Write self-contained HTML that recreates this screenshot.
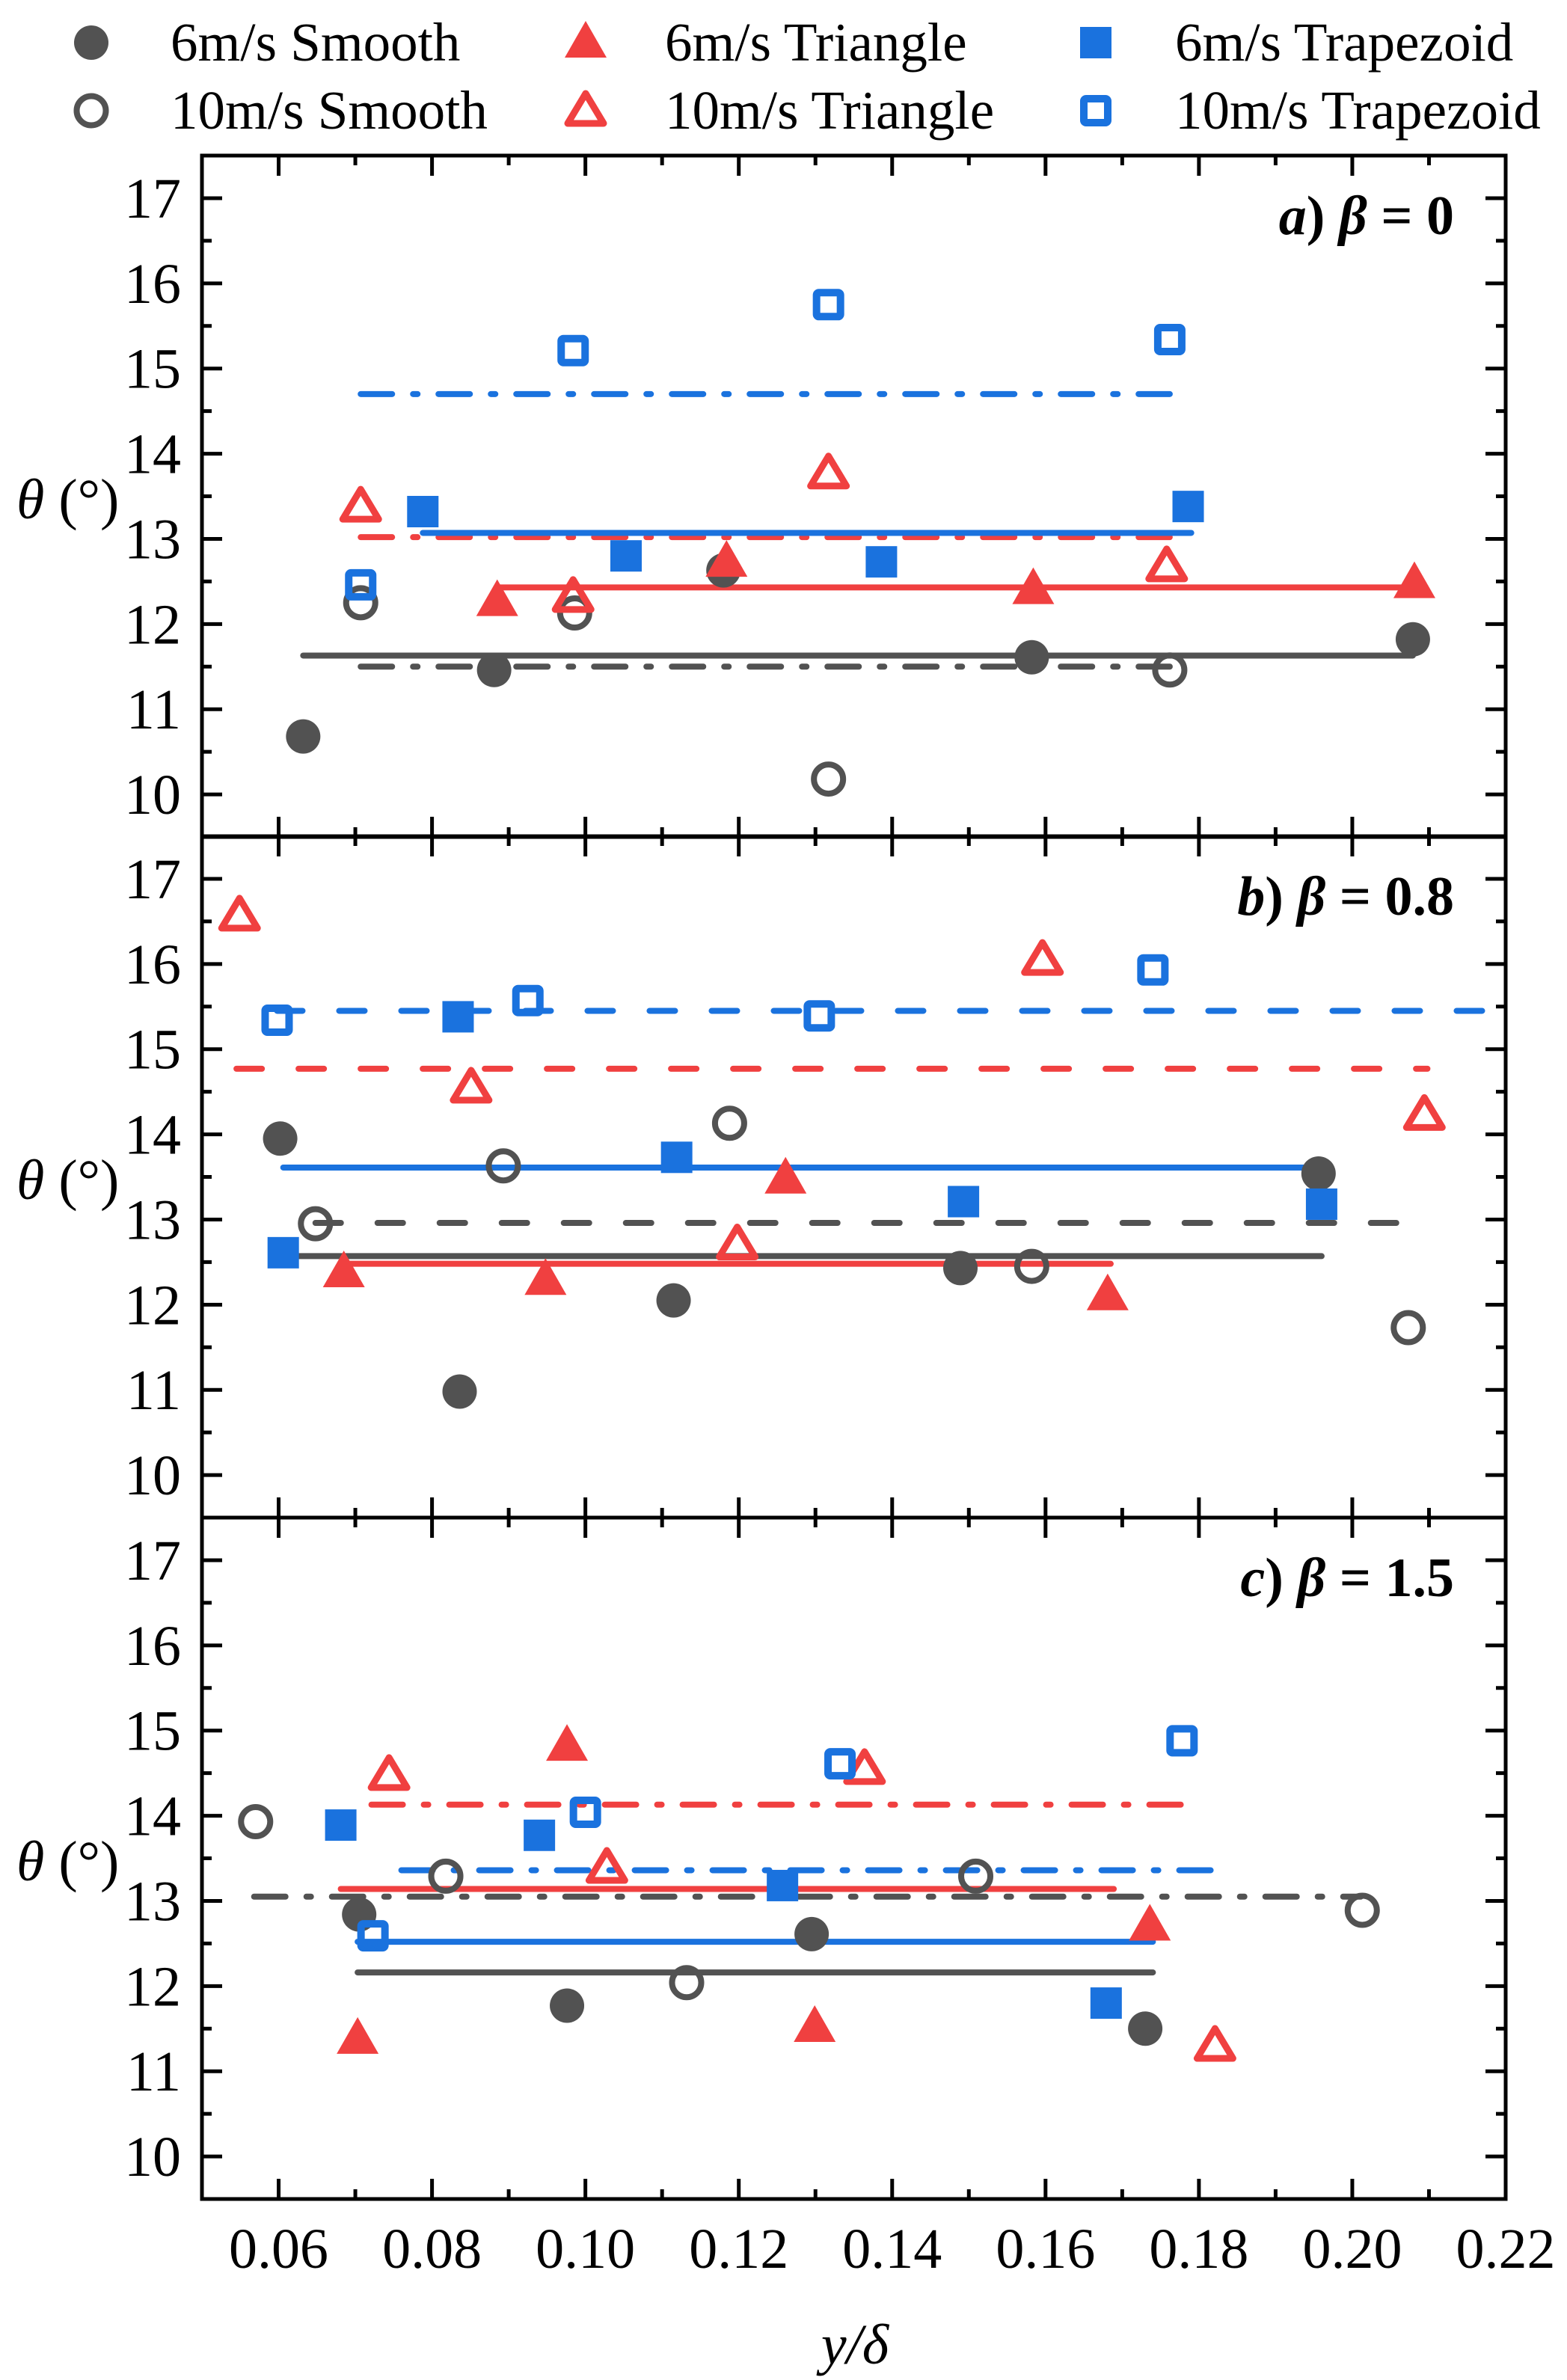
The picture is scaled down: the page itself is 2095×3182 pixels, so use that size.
<!DOCTYPE html>
<html><head><meta charset="utf-8"><style>
html,body{margin:0;padding:0;background:#fff;}
svg{display:block;font-family:"Liberation Serif","DejaVu Serif",serif;}
</style></head><body>
<svg id="chart" width="2095" height="3182" viewBox="0 0 2095 3182" xmlns="http://www.w3.org/2000/svg"></svg>
<script>
// ---- data ----
const seriesNames = ["6m/s Smooth","10m/s Smooth","6m/s Triangle","10m/s Triangle","6m/s Trapezoid","10m/s Trapezoid"];
const panelLabels = ["a)","b)","c)"];
const betaValues = ["0","0.8","1.5"];
const xTicks = [0.06,0.08,0.10,0.12,0.14,0.16,0.18,0.20,0.22];
const xTickLabels = ["0.06","0.08","0.10","0.12","0.14","0.16","0.18","0.20","0.22"];
const yTicks = [10,11,12,13,14,15,16,17];
// panel a
const aSmooth6X=[.0632,.0881,.118,.1582,.2079], aSmooth6Y=[10.68,11.46,12.63,11.61,11.82];
const aSmooth10X=[.0707,.0986,.1317,.1762], aSmooth10Y=[12.25,12.13,10.18,11.46];
const aTri6X=[.0885,.1184,.1584,.2081], aTri6Y=[12.27,12.73,12.41,12.48];
const aTri10X=[.0707,.0984,.1317,.1758], aTri10Y=[13.38,12.32,13.77,12.68];
const aTrap6X=[.0788,.1053,.1386,.1786], aTrap6Y=[13.32,12.80,12.73,13.38];
const aTrap10X=[.0707,.0984,.1317,.1762], aTrap10Y=[12.46,15.21,15.75,15.34];
const aLineLevel=[11.63,11.50,12.43,13.02,13.07,14.70];
const aLineStart=[.0632,.0707,.0885,.0707,.0788,.0707];
const aLineEnd=[.2079,.1762,.2081,.1762,.179,.1762];
// panel b
const bSmooth6X=[.0602,.0836,.1115,.1489,.1956], bSmooth6Y=[13.95,10.98,12.05,12.43,13.54];
const bSmooth10X=[.0648,.0893,.1188,.1582,.2073], bSmooth10Y=[12.95,13.63,14.13,12.45,11.73];
const bTri6X=[.0685,.0948,.1261,.1681], bTri6Y=[12.38,12.29,13.48,12.11];
const bTri10X=[.0549,.0851,.1198,.1596,.2094], bTri10Y=[16.57,14.55,12.71,16.05,14.23];
const bTrap6X=[.0606,.0834,.1119,.1493,.196], bTrap6Y=[12.61,15.38,13.73,13.21,13.18];
const bTrap10X=[.0598,.0925,.1305,.174], bTrap10Y=[15.34,15.57,15.39,15.93];
const bLineLevel=[12.57,12.96,12.48,14.77,13.61,15.45];
const bLineStart=[.0602,.0648,.0685,.0545,.0606,.0598];
const bLineEnd=[.196,.2079,.1685,.2098,.196,.2197];
// panel c
const cSmooth6X=[.0705,.0976,.1295,.173], cSmooth6Y=[12.84,11.77,12.61,11.5];
const cSmooth10X=[.057,.0818,.1132,.1509,.2013], cSmooth10Y=[13.93,13.29,12.04,13.29,12.89];
const cTri6X=[.0703,.0976,.1299,.1736], cTri6Y=[11.38,14.82,11.52,12.71];
const cTri10X=[.0744,.1028,.1364,.1821], cTri10Y=[14.48,13.39,14.55,11.30];
const cTrap6X=[.0681,.094,.1257,.1679], cTrap6Y=[13.89,13.77,13.18,11.80];
const cTrap10X=[.0723,.1,.1332,.1778], cTrap10Y=[12.59,14.04,14.61,14.88];
const cLineLevel=[12.16,13.05,13.14,14.13,12.52,13.36];
const cLineStart=[.0703,.0568,.0681,.0721,.0703,.076];
const cLineEnd=[.174,.2011,.1689,.1786,.174,.1829];

// ---- styling ----
const NS="http://www.w3.org/2000/svg";
const svg=document.getElementById('chart');
const GRAY="#525252", RED="#f04040", BLUE="#1a72de";
const colors=[GRAY,GRAY,RED,RED,BLUE,BLUE];
const kinds=["circle","ocircle","tri","otri","sq","osq"];
const L=270, R=2013, panelTops=[208,1118,2029], PH=911;
const X0=0.05, X1=0.22, Y0=9.5, Y1=17.5;
function sx(v){return L+(v-X0)/(X1-X0)*(R-L);}
function sy(v,p){return panelTops[p]+PH-(v-Y0)/(Y1-Y0)*PH;}
function el(tag,attrs,parent){const e=document.createElementNS(NS,tag);for(const k in attrs)e.setAttribute(k,attrs[k]);(parent||svg).appendChild(e);return e;}

function marker(kind,cx,cy,col,parent){
  let e;
  if(kind==="circle") e=el('circle',{cx:cx,cy:cy,r:23,fill:col},parent);
  else if(kind==="ocircle") e=el('circle',{cx:cx,cy:cy,r:19.5,fill:'none',stroke:col,'stroke-width':8},parent);
  else if(kind==="tri") e=el('polygon',{points:`${cx},${cy-29} ${cx-28},${cy+20} ${cx+28},${cy+20}`,fill:col},parent);
  else if(kind==="otri") e=el('polygon',{points:`${cx},${cy-23} ${cx-24},${cy+17} ${cx+24},${cy+17}`,fill:'none',stroke:col,'stroke-width':9,'stroke-linejoin':'round'},parent);
  else if(kind==="sq") e=el('rect',{x:cx-21,y:cy-21,width:42,height:42,fill:col},parent);
  else e=el('rect',{x:cx-16,y:cy-16,width:32,height:32,rx:3,fill:'none',stroke:col,'stroke-width':10},parent);
  return e;
}

// ---- legend ----
const legX=[122,783,1465], legY=[57,148];
for(let i=0;i<6;i++){
  const col=Math.floor(i/2), row=i%2;
  const g=el('g',{});
  
  
  marker(kinds[i],legX[col],legY[row],colors[i],g);
  const t=el('text',{x:legX[col]+106,y:legY[row]+24,'font-size':73,fill:'#000'},g);
  t.textContent=seriesNames[i];
}

const panels=[
 {xs:[aSmooth6X,aSmooth10X,aTri6X,aTri10X,aTrap6X,aTrap10X],ys:[aSmooth6Y,aSmooth10Y,aTri6Y,aTri10Y,aTrap6Y,aTrap10Y],lv:aLineLevel,ls:aLineStart,le:aLineEnd,style:"dashdot"},
 {xs:[bSmooth6X,bSmooth10X,bTri6X,bTri10X,bTrap6X,bTrap10X],ys:[bSmooth6Y,bSmooth10Y,bTri6Y,bTri10Y,bTrap6Y,bTrap10Y],lv:bLineLevel,ls:bLineStart,le:bLineEnd,style:"dash"},
 {xs:[cSmooth6X,cSmooth10X,cTri6X,cTri10X,cTrap6X,cTrap10X],ys:[cSmooth6Y,cSmooth10Y,cTri6Y,cTri10Y,cTrap6Y,cTrap10Y],lv:cLineLevel,ls:cLineStart,le:cLineEnd,style:"dashdot"}
];

panels.forEach((P,p)=>{
  const top=panelTops[p], bot=top+PH;
  const g=el('g',{});
  
  
  for(let i=0;i<6;i++){
    const dashed=(i%2===1);
    const attrs={x1:sx(P.ls[i]),x2:sx(P.le[i]),y1:sy(P.lv[i],p),y2:sy(P.lv[i],p),stroke:colors[i],'stroke-width':8,'stroke-linecap':'round'};
    if(dashed) attrs['stroke-dasharray']=P.style==="dash"?"34 49":"42 28 6 28";
    const ln=el('line',attrs,g);
    
    
  }
  for(let i=0;i<6;i++){
    for(let k=0;k<P.xs[i].length;k++){
      const m=marker(kinds[i],sx(P.xs[i][k]),sy(P.ys[i][k],p),colors[i],g);
      
      
    }
  }
  const fr=el('rect',{x:L,y:top,width:R-L,height:PH,fill:'none',stroke:'#000','stroke-width':5},g);
  
  
  for(let v=0.06;v<=0.2201;v+=0.01){
    const major=Math.round(v*100)%2===0;
    const len=major?27:13, x=sx(v);
    el('line',{x1:x,x2:x,y1:top,y2:top+len,stroke:'#000','stroke-width':5},g);
    el('line',{x1:x,x2:x,y1:bot,y2:bot-len,stroke:'#000','stroke-width':5},g);
  }
  for(let v=10;v<=17.01;v+=0.5){
    const major=Math.abs(v-Math.round(v))<0.01;
    const len=major?27:13, y=sy(v,p);
    el('line',{x1:L,x2:L+len,y1:y,y2:y,stroke:'#000','stroke-width':5},g);
    el('line',{x1:R,x2:R-len,y1:y,y2:y,stroke:'#000','stroke-width':5},g);
  }
  yTicks.forEach(v=>{
    const t=el('text',{x:242,y:sy(v,p)+26,'font-size':76,'text-anchor':'end',fill:'#000'},g);
    
    
    t.textContent=String(v);
  });
  const yt=el('text',{x:22,y:top+485,'font-size':76,fill:'#000'},g);
  
  
  yt.innerHTML='<tspan font-style="italic">θ</tspan> (°)';
  const pl=el('text',{x:1944,y:top+105,'font-size':74,'font-weight':'bold','text-anchor':'end',fill:'#000'},g);
  
  
  pl.setAttribute('xml:space','preserve');
  pl.innerHTML='<tspan font-style="italic">'+panelLabels[p].slice(0,1)+'</tspan>'+panelLabels[p].slice(1)+'  <tspan font-style="italic">β</tspan> = '+betaValues[p];
});

xTicks.forEach((v,i)=>{
  const t=el('text',{x:sx(v),y:3032,'font-size':76,'text-anchor':'middle',fill:'#000'});
  
  
  t.textContent=xTickLabels[i];
});
const xt=el('text',{x:1143,y:3160,'font-size':76,'text-anchor':'middle','font-style':'italic',fill:'#000'});


xt.textContent='y/δ';
</script>
</body></html>
